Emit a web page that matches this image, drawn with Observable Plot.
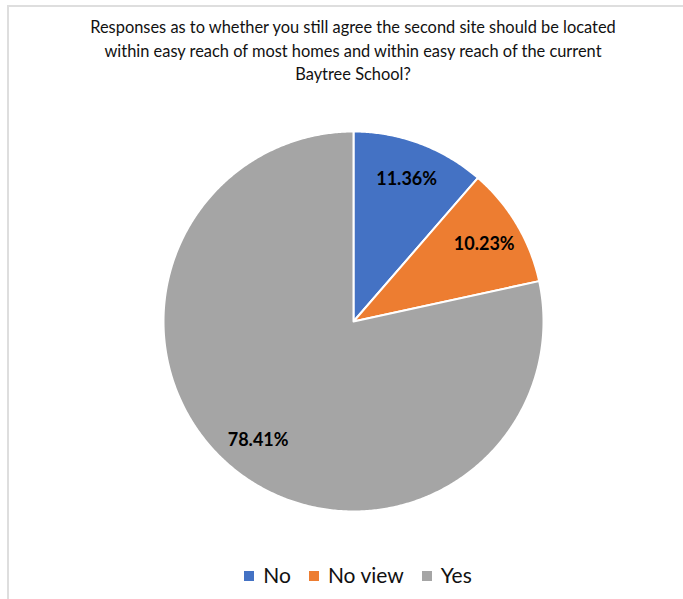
<!DOCTYPE html>
<html>
<head>
<meta charset="utf-8">
<script src="https://cdn.jsdelivr.net/npm/d3@7"></script>
<script src="https://cdn.jsdelivr.net/npm/@observablehq/plot@0.6"></script>
<style>
  html, body { margin: 0; padding: 0; background: #fff; width: 683px; height: 599px; overflow: hidden; }
  #frame { position: absolute; left: 7px; top: 5px; width: 700px; height: 640px; border: 2px solid #dedede; box-sizing: border-box; }
  #title { position: absolute; left: 0; top: 15px; width: 706px; text-align: center; font-family: Lato, sans-serif; font-size: 16.4px; line-height: 23.5px; color: #111; }
  #chart { position: absolute; left: 0; top: 121px; }
  #legend { position: absolute; left: 5px; top: 562px; width: 706px; text-align: center; font-family: Lato, sans-serif; font-size: 21px; color: #111; }
  #legend span.item { display: inline-block; margin: 0 9px; }
  #legend span.sw { display: inline-block; width: 10px; height: 10px; margin-right: 9px; vertical-align: 2px; }
</style>
</head>
<body>
<div id="frame"></div>
<div id="title">Responses as to whether you still agree the second site should be located<br>within easy reach of most homes and within easy reach of the current<br>Baytree School?</div>
<div id="chart"></div>
<div id="legend"></div>
<script>
const categories = ["No", "No view", "Yes"];
const values = [10, 9, 69];
const percentLabels = ["11.36%", "10.23%", "78.41%"];
const colors = ["#4472c4", "#ed7d31", "#a5a5a5"];

const R = 190;
const W = 683, H = 400;
const cx = 353;

const arcs = d3.pie().sort(null).startAngle(0).endAngle(2 * Math.PI)(values);

const points = [];
arcs.forEach((a, i) => {
  points.push({key: categories[i], x: 0, y: 0});
  const n = Math.max(2, Math.ceil((a.endAngle - a.startAngle) / (Math.PI / 360)));
  for (let k = 0; k <= n; k++) {
    const t = a.startAngle + (a.endAngle - a.startAngle) * k / n;
    points.push({key: categories[i], x: R * Math.sin(t), y: R * Math.cos(t)});
  }
});

const labels = arcs.map((a, i) => {
  const m = (a.startAngle + a.endAngle) / 2;
  const r = 0.8 * R;
  return {text: percentLabels[i], x: r * Math.sin(m), y: r * Math.cos(m)};
});

const chart = Plot.plot({
  width: W,
  height: H,
  margin: 0,
  x: {domain: [-cx, W - cx], axis: null},
  y: {domain: [-H / 2, H / 2], axis: null},
  color: {domain: categories, range: colors},
  style: {background: "transparent"},
  marks: [
    Plot.line(points, {x: "x", y: "y", z: "key", fill: "key", stroke: "white", strokeWidth: 2, curve: "linear-closed", strokeLinejoin: "round"}),
    Plot.text(labels, {x: "x", y: "y", text: "text", fill: "#000", fontSize: 18, fontWeight: "bold", fontFamily: "Lato, sans-serif"})
  ]
});
document.getElementById("chart").appendChild(chart);

const legend = document.getElementById("legend");
categories.forEach((c, i) => {
  const item = document.createElement("span");
  item.className = "item";
  const sw = document.createElement("span");
  sw.className = "sw";
  sw.style.background = colors[i];
  item.appendChild(sw);
  item.appendChild(document.createTextNode(c));
  legend.appendChild(item);
});
</script>
</body>
</html>
